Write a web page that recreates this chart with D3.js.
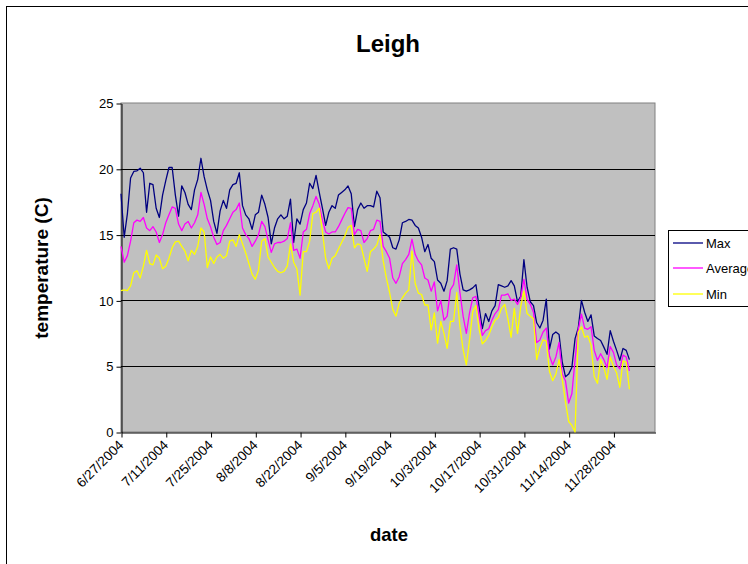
<!DOCTYPE html>
<html>
<head>
<meta charset="utf-8">
<script src="https://cdn.jsdelivr.net/npm/d3@7"></script>
<style>
  html, body { margin: 0; padding: 0; background: #fff; }
  svg { display: block; font-family: Arial, "Liberation Sans", sans-serif; }
</style>
</head>
<body>
<svg id="chart" width="748" height="564"></svg>
<script>
// Daily temperatures at Leigh, one reading per day starting 27 June 2004
const firstDay = Date.UTC(2004, 5, 27);
const lastAxisDay = Date.UTC(2004, 11, 11);

const maxTemp = [
  18.1, 14.8, 16.6, 19.3, 19.8, 19.85, 20.05, 19.7, 16.7, 18.9,
  18.8, 17.0, 16.3, 18.0, 19.1, 20.1, 20.1, 18.0, 16.4, 18.7,
  18.2, 17.3, 16.9, 18.4, 19.2, 20.8, 19.4, 18.4, 17.6, 16.0,
  15.1, 16.8, 17.6, 17.0, 18.4, 18.8, 18.9, 19.7, 17.2, 16.5,
  16.2, 15.4, 16.5, 16.7, 18.0, 17.3, 16.3, 14.3, 15.5, 16.2,
  16.5, 16.2, 16.4, 17.7, 14.4, 16.2, 15.8, 16.9, 17.4, 18.9,
  18.5, 19.5, 18.2, 17.0, 15.7, 16.7, 17.2, 17.0, 18.0, 18.2,
  18.4, 18.7, 18.1, 15.6, 16.9, 17.4, 17.0, 17.2, 17.2, 17.1,
  18.3, 17.8, 15.2, 15.0, 14.8, 14.0, 13.9, 14.6, 15.9, 16.0,
  16.15, 16.1, 15.7, 15.5, 14.8, 13.7, 14.25, 13.2, 12.95, 11.55,
  11.3, 10.7, 11.5, 13.9, 14.0, 13.9, 12.0, 10.8, 10.7, 10.8,
  10.95, 11.2, 9.5, 7.85, 9.0, 8.4, 9.2, 9.6, 11.2, 11.1,
  11.0, 11.1, 11.5, 11.1, 9.9, 10.3, 13.1, 11.0, 9.9, 9.6,
  8.3, 7.9, 8.5, 10.1, 6.3, 7.4, 7.6, 7.4, 5.3, 4.2,
  4.4, 4.9, 7.1, 7.9, 10.0, 9.1, 8.4, 8.9, 7.3, 7.1,
  6.95, 6.45, 5.9, 7.7, 6.9, 6.2, 5.45, 6.35, 6.2, 5.5
];

const avgTemp = [
  14.1, 12.9, 13.4, 14.5, 15.9, 16.1, 16.0, 16.3, 15.5, 15.3,
  15.6, 15.2, 14.4, 15.0, 15.9, 16.5, 17.1, 17.0, 15.8, 15.3,
  15.8, 16.0, 15.5, 15.9, 16.5, 18.2, 17.3, 16.2, 15.6, 14.8,
  14.25, 14.4, 15.3, 15.7, 16.2, 16.7, 16.9, 17.4, 15.5, 15.0,
  14.7, 14.1, 14.5, 15.0, 16.0, 15.6, 14.6, 13.65, 14.3, 14.4,
  14.4, 14.5, 14.7, 15.9, 13.8, 13.9, 13.2, 15.2, 15.4, 16.6,
  17.2, 17.9, 17.3, 16.1, 15.2, 15.05, 15.2, 15.2, 15.6, 16.1,
  16.6, 17.05, 17.0, 15.0, 15.4, 15.3, 14.4, 14.7, 15.3, 15.4,
  16.1, 16.0, 14.1, 13.7, 13.2, 11.7, 11.3, 11.8, 12.8, 13.1,
  13.5, 14.65, 13.5, 13.0, 12.7, 11.7, 11.55, 10.7, 11.4, 9.2,
  10.0, 8.5, 8.8, 10.8, 11.2, 12.7, 10.6, 8.8, 7.5, 9.05,
  10.2, 10.3, 8.8, 7.35, 7.7, 7.85, 8.5, 9.0, 9.3, 10.4,
  10.4, 10.5, 10.0, 10.1, 9.7, 10.2, 11.6, 10.1, 9.7, 9.1,
  6.8, 7.0, 7.6, 7.9, 5.8, 5.1, 5.7, 6.8, 4.4, 3.9,
  2.2, 2.9, 5.5, 7.8, 8.95, 7.9, 7.8, 8.0, 6.2, 5.45,
  5.95, 5.5, 4.9, 6.5, 6.05, 5.1, 4.8, 5.85, 5.7, 4.65
];

const minTemp = [
  10.75, 10.8, 10.75, 11.1, 12.1, 12.25, 11.7, 12.6, 13.8, 12.8,
  12.7, 13.45, 13.2, 12.4, 12.6, 13.2, 14.0, 14.45, 14.5, 14.1,
  13.75, 13.0, 13.8, 13.5, 14.1, 15.5, 15.2, 12.5, 13.3, 12.8,
  13.3, 13.5, 13.2, 13.4, 14.5, 14.6, 14.1, 15.0, 14.3, 13.6,
  12.8, 12.0, 11.6, 12.3, 14.5, 14.7, 13.3, 12.9, 12.5, 12.2,
  12.1, 12.2, 12.6, 14.3, 12.9, 12.4, 10.4, 13.7, 13.7, 14.5,
  16.6, 16.7, 17.0, 15.2, 13.2, 12.4, 13.2, 13.4, 13.9, 14.4,
  14.9, 15.55, 15.7, 14.0, 14.3, 14.2, 13.2, 12.2, 13.7, 13.9,
  14.2, 15.0, 13.0, 11.7, 10.6, 9.3, 8.8, 9.8, 10.2, 10.55,
  10.8, 13.75, 11.3, 10.55, 10.45, 9.65, 9.65, 7.75, 9.05, 6.75,
  8.4, 7.5, 6.35, 8.4, 8.4, 10.6, 8.0, 6.25, 5.1, 7.0,
  9.15, 9.6, 7.8, 6.7, 6.95, 7.35, 8.0, 8.5, 8.7, 9.4,
  9.7, 8.6, 7.2, 9.4, 7.5, 9.5, 10.7, 9.0, 8.8, 8.6,
  5.5, 6.4, 7.0, 6.9, 4.6, 3.9, 4.4, 5.5, 4.0, 2.3,
  0.8, 0.5, 0.0, 7.55, 8.0, 7.2, 7.3, 6.6, 4.2, 3.7,
  5.5, 4.9, 4.0, 5.7, 5.0, 4.5, 3.4, 5.4, 5.3, 3.25
];

const seriesNames = ["Max", "Average", "Min"];
const seriesColors = ["#000080", "#FF00FF", "#FFFF00"];
const yTicks = [0, 5, 10, 15, 20, 25];
const xTickCount = 12;      // one label every two weeks
const xTickStepDays = 14;

const titleText = "Leigh";
const xTitle = "date";
const yTitle = "temperature (C)";

// ---- layout ----
const plot = { left: 121, right: 655, top: 103, bottom: 432 };
const svg = d3.select("#chart");

const dates = maxTemp.map((_, i) => d3.utcDay.offset(new Date(firstDay), i));
const x = d3.scaleUtc()
  .domain([new Date(firstDay), new Date(lastAxisDay)])
  .range([plot.left, plot.right]);
const y = d3.scaleLinear().domain([0, 25]).range([plot.bottom, plot.top]);

// outer chart frame (runs off the right and bottom edges)
svg.append("rect")
  .attr("x", 6.5).attr("y", 6.5)
  .attr("width", 780).attr("height", 600)
  .attr("fill", "#fff").attr("stroke", "#000").attr("stroke-width", 1);

// title
svg.append("text")
  .attr("x", 388).attr("y", 52)
  .attr("text-anchor", "middle")
  .attr("font-size", 24).attr("font-weight", "bold")
  .text(titleText);

// plot background
svg.append("rect")
  .attr("x", plot.left).attr("y", plot.top)
  .attr("width", plot.right - plot.left).attr("height", plot.bottom - plot.top)
  .attr("fill", "#C0C0C0").attr("stroke", "#808080").attr("stroke-width", 1);

// horizontal gridlines
svg.append("g")
  .selectAll("line")
  .data(yTicks.filter(v => v > 0 && v < 25))
  .join("line")
  .attr("x1", plot.left).attr("x2", plot.right)
  .attr("y1", d => Math.round(y(d)) + 0.5).attr("y2", d => Math.round(y(d)) + 0.5)
  .attr("stroke", "#000").attr("stroke-width", 1);

// y axis
const yAxis = d3.axisLeft(y).tickValues(yTicks).tickSize(5).tickSizeOuter(0).tickPadding(3);
const gy = svg.append("g")
  .attr("transform", `translate(${plot.left + 0.5},0.5)`)
  .call(yAxis);
gy.select(".domain").attr("stroke", "#000");
gy.selectAll("text").attr("font-size", 13).attr("fill", "#000").attr("font-family", "Arial, 'Liberation Sans', sans-serif");

// x axis
const xTickDates = d3.range(xTickCount).map(k => d3.utcDay.offset(new Date(firstDay), k * xTickStepDays));
const fmt = d => `${d.getUTCMonth() + 1}/${d.getUTCDate()}/${d.getUTCFullYear()}`;
const xAxis = d3.axisBottom(x).tickValues(xTickDates).tickFormat(fmt).tickSize(5).tickSizeOuter(0);
const gx = svg.append("g")
  .attr("transform", `translate(0.5,${plot.bottom + 0.5})`)
  .call(xAxis);
gx.select(".domain").attr("stroke", "#000");
gx.selectAll("text")
  .attr("font-size", 13.5).attr("fill", "#000")
  .attr("font-family", "Arial, 'Liberation Sans', sans-serif")
  .attr("text-anchor", "end")
  .attr("dy", "0.35em")
  .attr("transform", "translate(-1,10) rotate(-45)")
  .attr("y", 0).attr("x", 0);

// series lines
const seriesData = [maxTemp, avgTemp, minTemp];
const line = d3.line()
  .x((d, i) => x(dates[i]))
  .y(d => y(d));
svg.append("g")
  .selectAll("path")
  .data(seriesData)
  .join("path")
  .attr("d", d => line(d))
  .attr("fill", "none")
  .attr("stroke", (d, i) => seriesColors[i])
  .attr("stroke-width", 1.3)
  .attr("stroke-linejoin", "round");

// axis titles
svg.append("text")
  .attr("x", 389).attr("y", 541)
  .attr("text-anchor", "middle")
  .attr("font-size", 18.5).attr("font-weight", "bold")
  .text(xTitle);
svg.append("text")
  .attr("transform", "translate(48,268) rotate(-90)")
  .attr("text-anchor", "middle")
  .attr("font-size", 19).attr("font-weight", "bold")
  .text(yTitle);

// legend
const legend = svg.append("g");
legend.append("rect")
  .attr("x", 668.5).attr("y", 230.5)
  .attr("width", 120).attr("height", 76)
  .attr("fill", "#fff").attr("stroke", "#000").attr("stroke-width", 1);
const rowY = [243, 268, 294];
seriesNames.forEach((name, i) => {
  legend.append("line")
    .attr("x1", 673).attr("x2", 703)
    .attr("y1", rowY[i]).attr("y2", rowY[i])
    .attr("stroke", seriesColors[i]).attr("stroke-width", 1.3);
  legend.append("text")
    .attr("x", 706).attr("y", rowY[i])
    .attr("dy", "0.35em")
    .attr("font-size", 13)
    .text(name);
});
</script>
</body>
</html>
